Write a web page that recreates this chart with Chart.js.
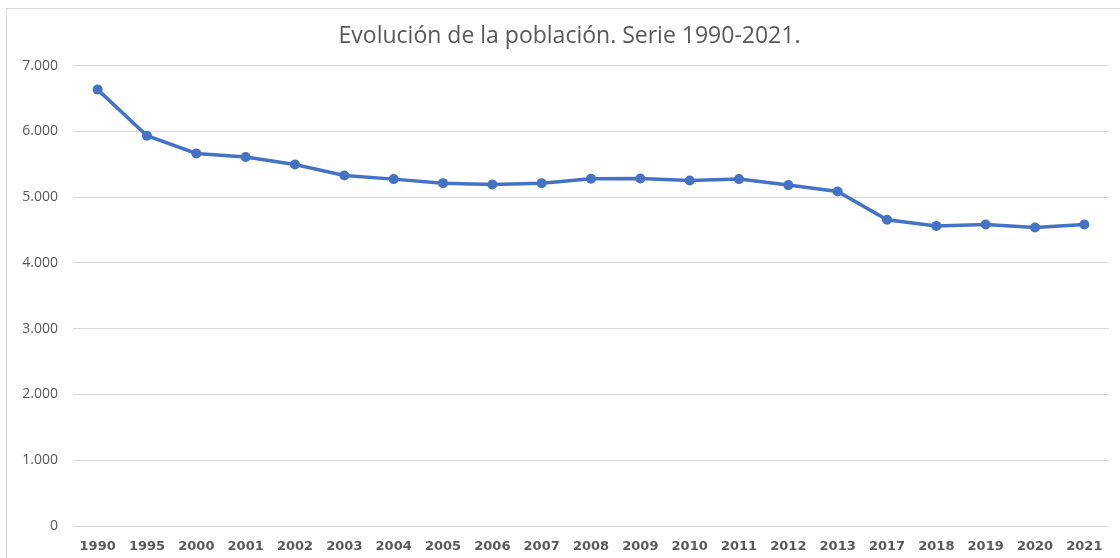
<!DOCTYPE html>
<html>
<head>
<meta charset="utf-8">
<script src="https://cdn.jsdelivr.net/npm/chart.js@4"></script>
<style>
  body { margin: 0; background: #fff; }
  #wrap { position: relative; width: 1120px; height: 558px; overflow: hidden; }
  #marco { position: absolute; left: 6px; top: 8px; width: 1200px; height: 600px; border: 1px solid #d9d9d9; box-sizing: border-box; }
  canvas { position: absolute; left: 0; top: 0; }
</style>
</head>
<body>
<div id="wrap">
  <div id="marco"></div>
  <canvas id="grafico" width="1120" height="558"></canvas>
</div>
<script>
    // Años de la serie (el eje salta de 2013 a 2017)
    var anios = ['1990', '1995', '2000', '2001', '2002', '2003', '2004', '2005', '2006', '2007',
                 '2008', '2009', '2010', '2011', '2012', '2013', '2017', '2018', '2019', '2020', '2021'];

    // Población (habitantes)
    var poblacion = [6635, 5934, 5665, 5609, 5497, 5330, 5274, 5213, 5193, 5213,
                     5279, 5284, 5254, 5274, 5183, 5086, 4655, 4563, 4584, 4538, 4584];

    // Marcas del eje vertical
    var marcasY = [0, 1000, 2000, 3000, 4000, 5000, 6000, 7000];

    var gris = '#595959';

    // 7000 -> "7.000"
    function formatoMiles(v) {
        return String(v).replace(/\B(?=(\d{3})+(?!\d))/g, '.');
    }

    // el título del original está algo desplazado a la derecha
    var moverTitulo = {
        id: 'moverTitulo',
        afterLayout: function (chart) {
            if (chart.titleBlock) {
                chart.titleBlock.left += 15;
                chart.titleBlock.right += 15;
            }
        }
    };

    var ctx = document.getElementById('grafico').getContext('2d');
    var grafico = new Chart(ctx, {
        type: 'line',
        data: {
            labels: anios,
            datasets: [{
                label: 'Población',
                data: poblacion,
                borderColor: '#4472C4',
                backgroundColor: '#4472C4',
                borderWidth: 3.5,
                pointRadius: 5,
                pointBackgroundColor: '#4472C4',
                pointBorderWidth: 0,
                tension: 0
            }]
        },
        options: {
            responsive: false,
            animation: false,
            layout: { padding: { left: 0, right: 11, top: 0, bottom: 0 } },
            plugins: {
                legend: { display: false },
                tooltip: { enabled: false },
                title: {
                    display: true,
                    text: 'Evolución de la población. Serie 1990-2021.',
                    color: gris,
                    font: { family: 'Open Sans', size: 23, weight: 'normal' },
                    padding: { top: 23, bottom: 15 }
                }
            },
            scales: {
                x: {
                    offset: true,
                    afterFit: function (escala) { escala.height = 32; },
                    grid: { display: false },
                    border: { display: false },
                    ticks: {
                        color: gris,
                        padding: 5,
                        maxRotation: 0,
                        autoSkip: false,
                        font: { family: 'DejaVu Sans', size: 13, weight: 'bold' }
                    }
                },
                y: {
                    min: 0,
                    max: 7000,
                    afterBuildTicks: function (escala) {
                        escala.ticks = marcasY.map(function (v) { return { value: v }; });
                    },
                    afterFit: function (escala) { escala.width = 73; },
                    grid: { color: '#d9d9d9', lineWidth: 1, drawTicks: false },
                    border: { display: false },
                    ticks: {
                        color: gris,
                        padding: 15,
                        font: { family: 'Open Sans', size: 14 },
                        callback: function (v) { return formatoMiles(v); }
                    }
                }
            }
        },
        plugins: [moverTitulo]
    });
</script>
</body>
</html>
